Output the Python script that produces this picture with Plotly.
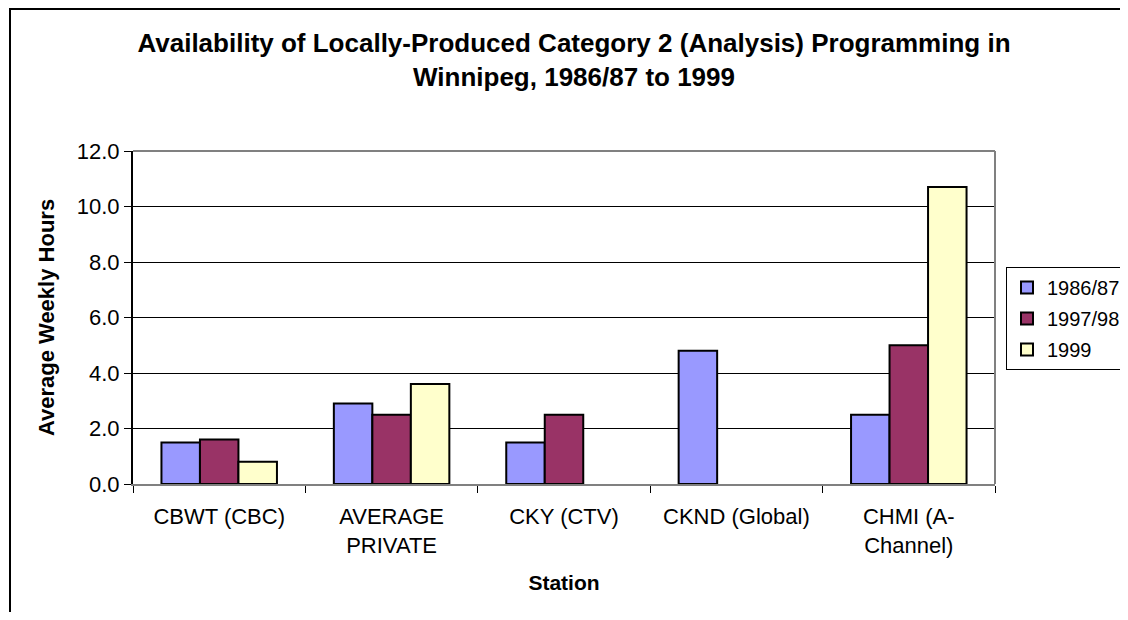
import plotly.graph_objects as go

stations = ["CBWT (CBC)", "AVERAGE<br>PRIVATE", "CKY (CTV)", "CKND (Global)", "CHMI (A-<br>Channel)"]
series_names = ["1986/87", "1997/98", "1999"]
v1986 = [1.5, 2.9, 1.5, 4.8, 2.5]
v1997 = [1.6, 2.5, 2.5, None, 5.0]
v1999 = [0.8, 3.6, None, None, 10.7]
colors = ["#9999FF", "#993366", "#FFFFCC"]
y_ticks = [0, 2, 4, 6, 8, 10, 12]

FONT = "Liberation Sans, Arial, sans-serif"

fig = go.Figure()
for name, vals, col in zip(series_names, [v1986, v1997, v1999], colors):
    fig.add_trace(go.Bar(x=stations, y=vals, name=name, legendgroup=name,
                         marker=dict(color=col, line=dict(color="#000000", width=2))))

# page body has an 8px margin; figure coordinates = screen - 8
OFF = 8
W, H = 1128 - 2 * OFF, 620 - 2 * OFF
L, R, T, B = 133 - OFF, 995 - OFF, 151 - OFF, 484 - OFF
pw, ph = R - L, B - T

def px(x):
    return (x - OFF - L) / pw

def py(y):
    return (B - (y - OFF)) / ph

fig.update_layout(
    width=W, height=H,
    margin=dict(l=L, r=W - R, t=T, b=H - B, pad=0, autoexpand=False),
    paper_bgcolor="white", plot_bgcolor="white",
    font=dict(family=FONT, size=22, color="#000000"),
    title=dict(text="<b>Availability of Locally-Produced Category 2 (Analysis) Programming in<br>Winnipeg, 1986/87 to 1999</b>",
               x=(574 - OFF) / W, xanchor="center", y=1 - (52 - OFF) / H, yanchor="top",
               font=dict(size=26, family=FONT)),
    barmode="group", bargap=0.33, bargroupgap=0,
    showlegend=True,
    legend=dict(x=px(1006), y=py(267), xanchor="left", yanchor="top",
                bordercolor="#000000", borderwidth=1, font=dict(size=20, family=FONT),
                tracegroupgap=2, itemwidth=30),
    xaxis=dict(title=dict(text="<b>Station</b>", font=dict(size=21, family=FONT), standoff=18),
               showline=True, linecolor="#808080", linewidth=2, mirror=False,
               ticks="outside", ticklen=7, tickcolor="#000000", tickson="boundaries",
               ticklabelstandoff=12,
               showgrid=False, tickfont=dict(size=22, family=FONT)),
    yaxis=dict(title=dict(text="<b>Average Weekly Hours</b>", font=dict(size=22, family=FONT), standoff=16),
               range=[0, 12], tickvals=y_ticks, tickformat=".1f",
               showline=True, linecolor="#000000", linewidth=2,
               ticks="outside", ticklen=7, tickcolor="#000000",
               showgrid=True, gridcolor="#000000", gridwidth=1,
               zeroline=False, tickfont=dict(size=22, family=FONT)),
    shapes=[
        dict(type="line", xref="paper", yref="paper", x0=1, x1=1, y0=0, y1=1,
             line=dict(color="#808080", width=2)),
        dict(type="line", xref="paper", yref="paper", x0=0, x1=1, y0=1, y1=1,
             line=dict(color="#808080", width=2)),
        dict(type="line", xref="paper", yref="paper", x0=px(10), x1=px(10), y0=py(640), y1=py(9),
             line=dict(color="#000000", width=2)),
        dict(type="line", xref="paper", yref="paper", x0=px(9), x1=px(1140), y0=py(9), y1=py(9),
             line=dict(color="#000000", width=2)),
    ],
)

fig.write_html("out.html")
